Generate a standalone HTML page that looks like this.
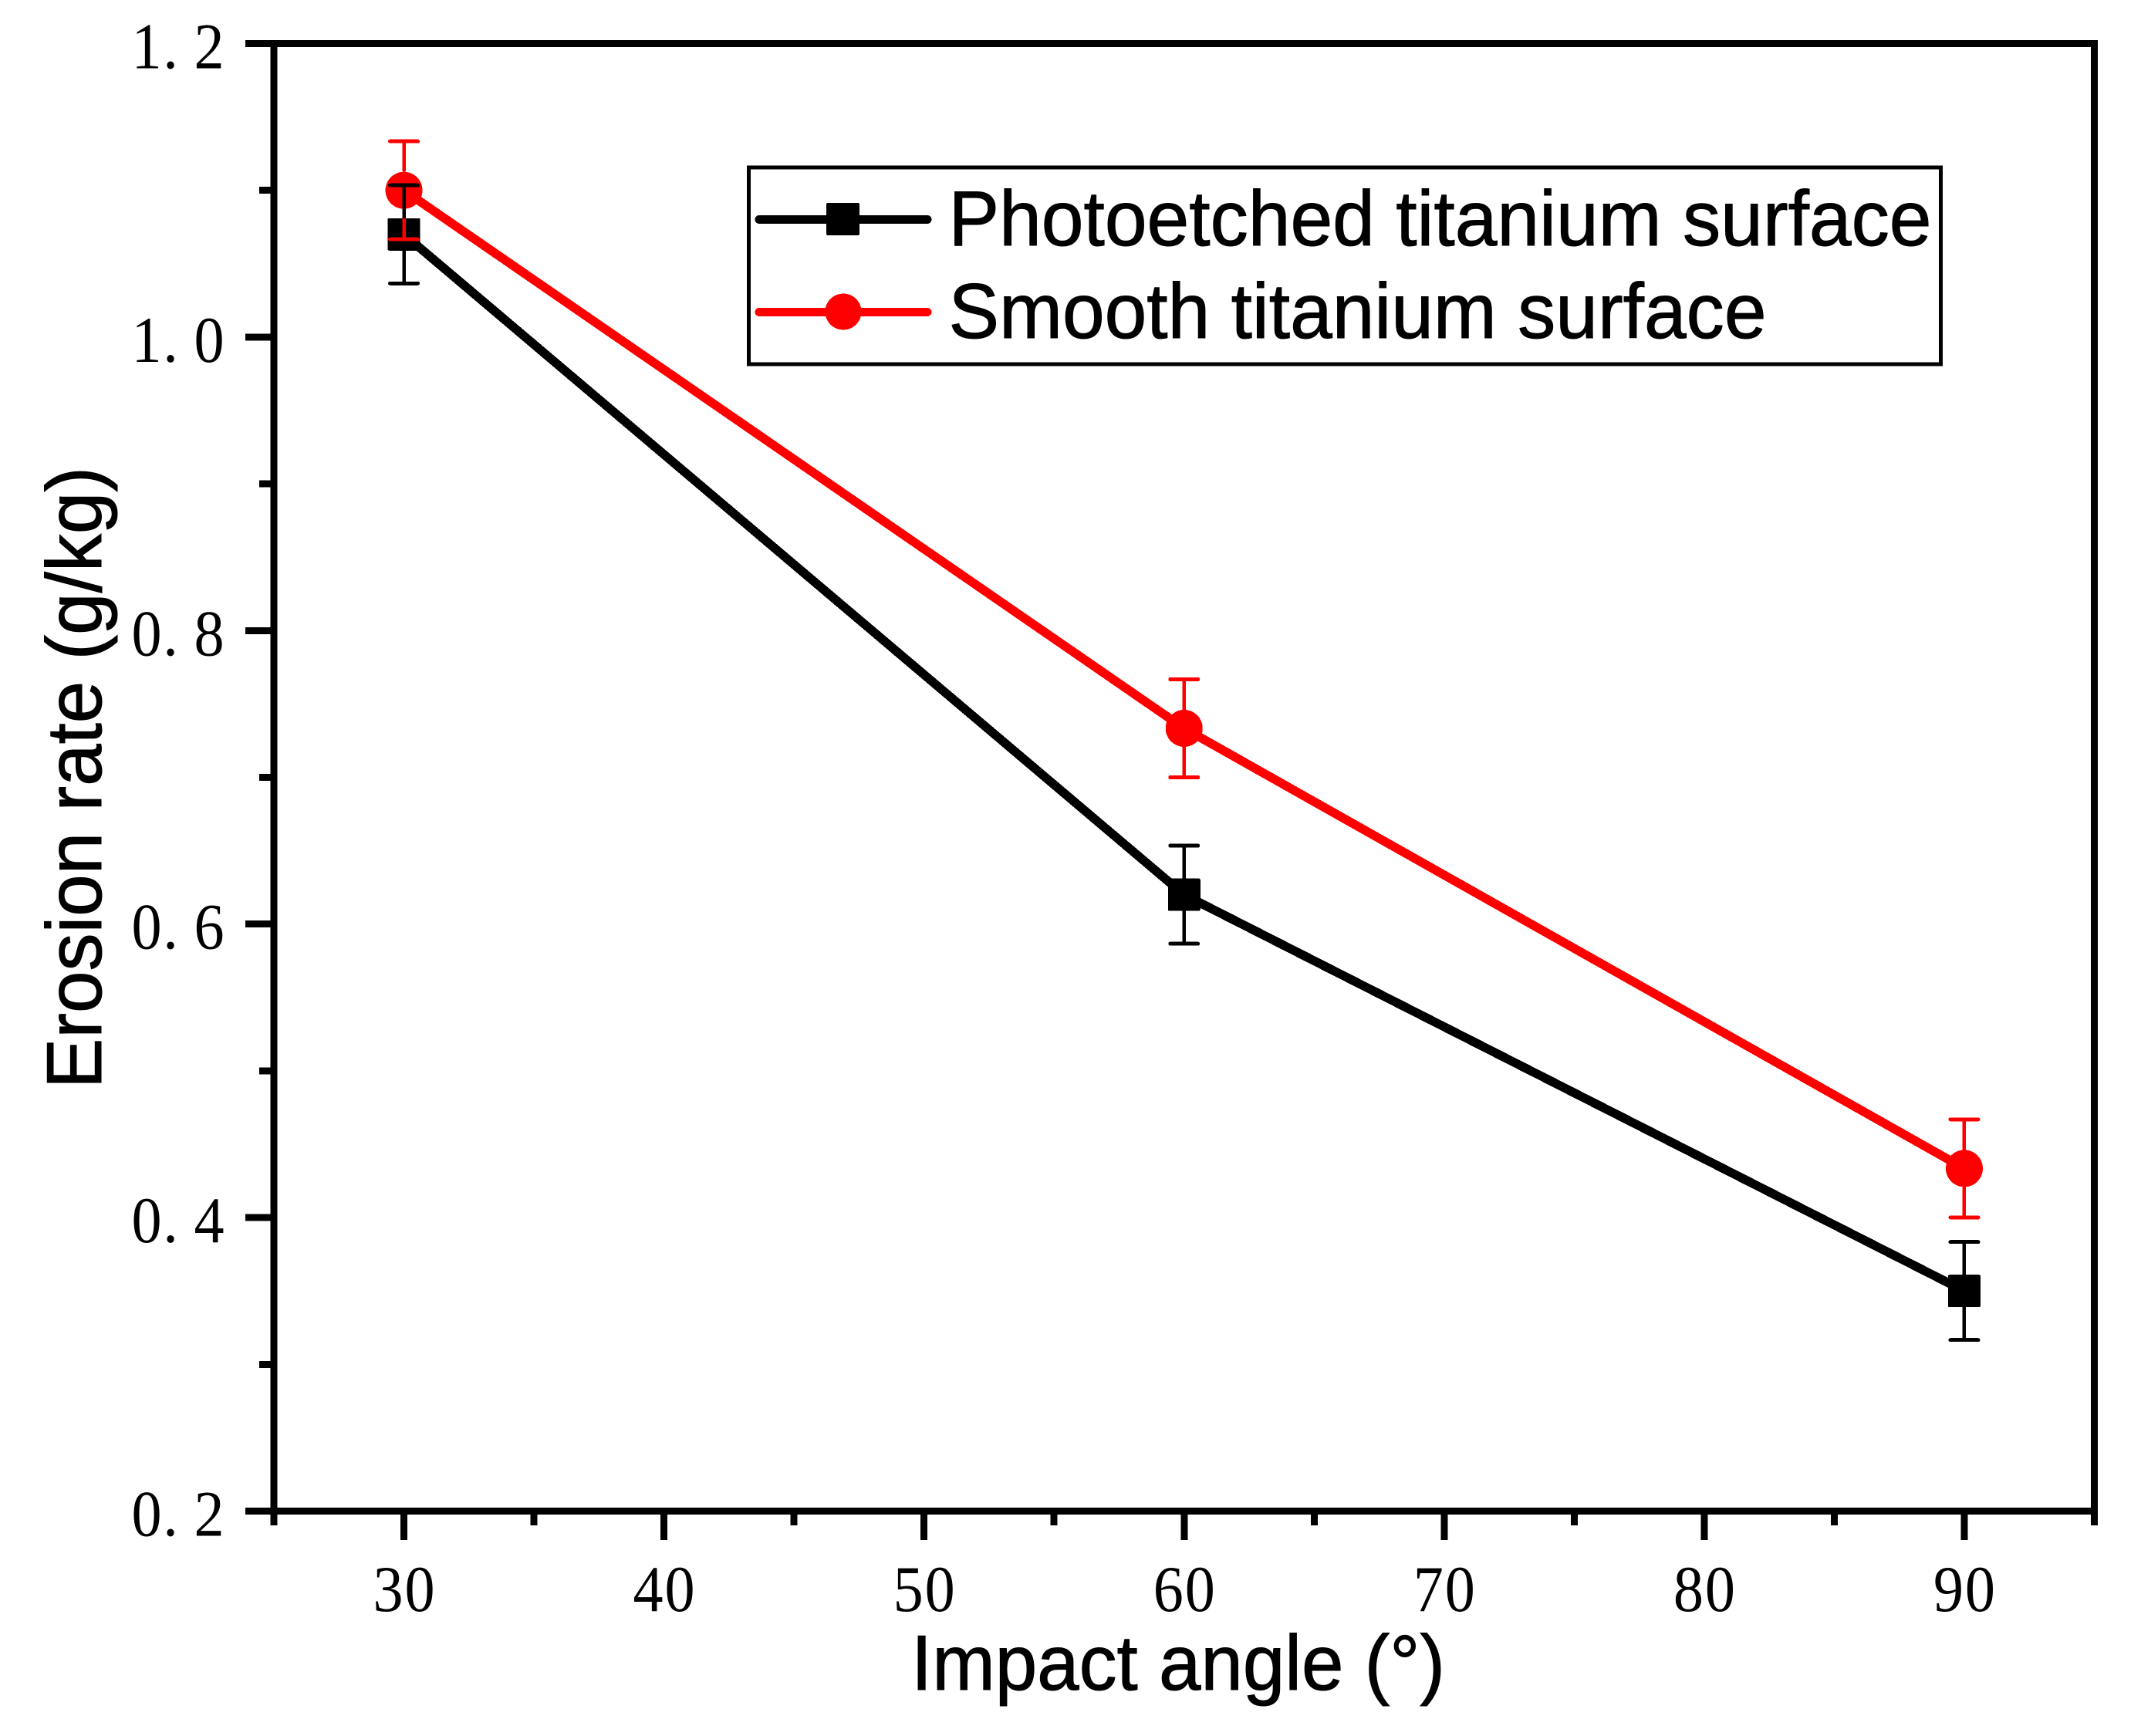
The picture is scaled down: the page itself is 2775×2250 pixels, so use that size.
<!DOCTYPE html>
<html lang="en">
<head>
<meta charset="utf-8">
<title>Erosion rate vs impact angle</title>
<style>
html,body{margin:0;padding:0;background:#fff;width:2775px;height:2250px;overflow:hidden}
svg{display:block}
.sans{font-family:"Liberation Sans",Arial,sans-serif;fill:#000;stroke:#000;stroke-width:1}
.serif{font-family:"Liberation Serif","Noto Serif CJK SC",serif;fill:#000;font-size:85px}
</style>
</head>
<body>
<svg id="chart" xmlns="http://www.w3.org/2000/svg" width="2775" height="2250" viewBox="0 0 2775 2250" shape-rendering="crispEdges">
  <rect x="0" y="0" width="2775" height="2250" fill="#fff"/>
  <g id="axes"></g>
  <g id="series"></g>
  <g id="legend">
    <rect x="970.5" y="217" width="1545" height="255" fill="none" stroke="#000" stroke-width="5"/>
    <g>
      <line x1="984" y1="284.5" x2="1202" y2="284.5" stroke="#000" stroke-width="11" stroke-linecap="round"/>
      <rect x="1071" y="263" width="43" height="42" rx="2" fill="#000"/>
      <text class="sans" x="1229.5" y="318" font-size="101" textLength="1274" lengthAdjust="spacingAndGlyphs">Photoetched titanium surface</text>
    </g>
    <g>
      <line x1="984" y1="404.5" x2="1202" y2="404.5" stroke="#f00" stroke-width="11" stroke-linecap="round"/>
      <circle cx="1093" cy="404" r="23.5" fill="#f00"/>
      <text class="sans" x="1229.5" y="438" font-size="101" textLength="1060" lengthAdjust="spacingAndGlyphs">Smooth titanium surface</text>
    </g>
  </g>
  <text class="sans" x="1181" y="2190" font-size="101" textLength="692" lengthAdjust="spacingAndGlyphs">Impact angle (°)</text>
  <text class="sans" transform="translate(131 1411) rotate(-90)" x="0" y="0" font-size="101" textLength="806" lengthAdjust="spacingAndGlyphs">Erosion rate (g/kg)</text>
</svg>
<script>
const categories = [30, 60, 90];
const photoetchedValues = [1.07, 0.62, 0.35];
const photoetchedErrors = [0.0334, 0.0334, 0.0334];
const smoothValues = [1.1, 0.7334, 0.4335];
const smoothErrors = [0.0334, 0.0334, 0.0334];
const xMajorTicks = [30, 40, 50, 60, 70, 80, 90];
const xMinorTicks = [25, 35, 45, 55, 65, 75, 85, 95];
const xTickLabels = ["30", "40", "50", "60", "70", "80", "90"];
const yMajorTicks = [0.2, 0.4, 0.6, 0.8, 1.0, 1.2];
const yMinorTicks = [0.3, 0.5, 0.7, 0.9, 1.1];
const yTickLabels = ["0.2", "0.4", "0.6", "0.8", "1.0", "1.2"];

const NS = "http://www.w3.org/2000/svg";
const plot = {left: 355, right: 2714.5, top: 56.5, bottom: 1958.5, xMin: 25, xMax: 95, yMin: 0.2, yMax: 1.2};
const labelSqueeze = 0.92;
function xScale(v) { return plot.left + (v - plot.xMin) / (plot.xMax - plot.xMin) * (plot.right - plot.left); }
function yScale(v) { return plot.bottom - (v - plot.yMin) / (plot.yMax - plot.yMin) * (plot.bottom - plot.top); }
function make(tag, attrs, parent) {
  const el = document.createElementNS(NS, tag);
  for (const k in attrs) el.setAttribute(k, attrs[k]);
  parent.appendChild(el);
  return el;
}
function squeezedX(list) { return list.map(function (x) { return x / labelSqueeze; }).join(" "); }
const axes = document.getElementById("axes");
const seriesRoot = document.getElementById("series");

function drawSpine(name, x1, y1, x2, y2) {
  const el = make("line", {x1: x1, y1: y1, x2: x2, y2: y2, stroke: "#000", "stroke-width": 9}, axes);
  
  
}
drawSpine("left-spine", plot.left, plot.top - 4.5, plot.left, plot.bottom + 18.5);
drawSpine("right-spine", plot.right, plot.top - 4.5, plot.right, plot.bottom + 18.5);
drawSpine("top-spine", plot.left, plot.top, plot.right + 4.5, plot.top);
drawSpine("bottom-spine", plot.left, plot.bottom, plot.right + 4.5, plot.bottom);

yMajorTicks.forEach(function (v, i) {
  const y = yScale(v);
  const tick = make("line", {x1: 318, y1: y, x2: plot.left, y2: y, stroke: "#000", "stroke-width": 9}, axes);
  
  
  const label = make("text", {class: "serif", "text-anchor": "middle", transform: "scale(" + labelSqueeze + " 1)", x: squeezedX([190, 221, 271]), y: y + 32}, axes);
  
  
  label.textContent = yTickLabels[i];
});
yMinorTicks.forEach(function (v) {
  const y = yScale(v);
  const tick = make("line", {x1: 336, y1: y, x2: plot.left, y2: y, stroke: "#000", "stroke-width": 9}, axes);
  
  
});
xMajorTicks.forEach(function (v, i) {
  const x = xScale(v);
  const tick = make("line", {x1: x, y1: plot.bottom, x2: x, y2: 1996, stroke: "#000", "stroke-width": 9}, axes);
  
  
  const label = make("text", {class: "serif", "text-anchor": "middle", transform: "scale(" + labelSqueeze + " 1)", x: squeezedX([x - 20.5, x + 20.5]), y: 2088}, axes);
  
  
  label.textContent = xTickLabels[i];
});
xMinorTicks.forEach(function (v) {
  const x = xScale(v);
  const tick = make("line", {x1: x, y1: plot.bottom, x2: x, y2: 1977, stroke: "#000", "stroke-width": 9}, axes);
  
  
});

function drawLine(values, color, name) {
  const pts = categories.map(function (c, i) { return xScale(c) + "," + yScale(values[i]); }).join(" ");
  const line = make("polyline", {points: pts, fill: "none", stroke: color, "stroke-width": 11.5, "stroke-linejoin": "round"}, seriesRoot);
  
  
}
function drawSquares(values) {
  categories.forEach(function (c, i) {
    const m = make("rect", {x: xScale(c) - 21, y: yScale(values[i]) - 21, width: 42, height: 42, rx: 2, fill: "#000"}, seriesRoot);
    
    
  });
}
function drawCircles(values) {
  categories.forEach(function (c, i) {
    const m = make("circle", {cx: xScale(c), cy: yScale(values[i]), r: 24, fill: "#f00"}, seriesRoot);
    
    
  });
}
function drawErrors(values, errors, color, gap, name) {
  categories.forEach(function (c, i) {
    const x = xScale(c);
    const y = yScale(values[i]);
    const hi = yScale(values[i] + errors[i]);
    const lo = yScale(values[i] - errors[i]);
    const g = make("g", {stroke: color, fill: "none"}, seriesRoot);
    
    
    make("line", {x1: x, y1: y - gap, x2: x, y2: hi, "stroke-width": 4.5}, g);
    make("line", {x1: x, y1: y + gap, x2: x, y2: lo, "stroke-width": 4.5}, g);
    make("line", {x1: x - 18, y1: hi, x2: x + 18, y2: hi, "stroke-width": 5, "stroke-linecap": "round"}, g);
    make("line", {x1: x - 18, y1: lo, x2: x + 18, y2: lo, "stroke-width": 5, "stroke-linecap": "round"}, g);
  });
}
drawLine(photoetchedValues, "#000", "photoetched-line");
drawSquares(photoetchedValues);
drawLine(smoothValues, "#f00", "smooth-line");
drawCircles(smoothValues);
drawErrors(smoothValues, smoothErrors, "#f00", 24, "smooth-error-bar");
drawErrors(photoetchedValues, photoetchedErrors, "#000", 21, "photoetched-error-bar");
</script>
</body>
</html>
